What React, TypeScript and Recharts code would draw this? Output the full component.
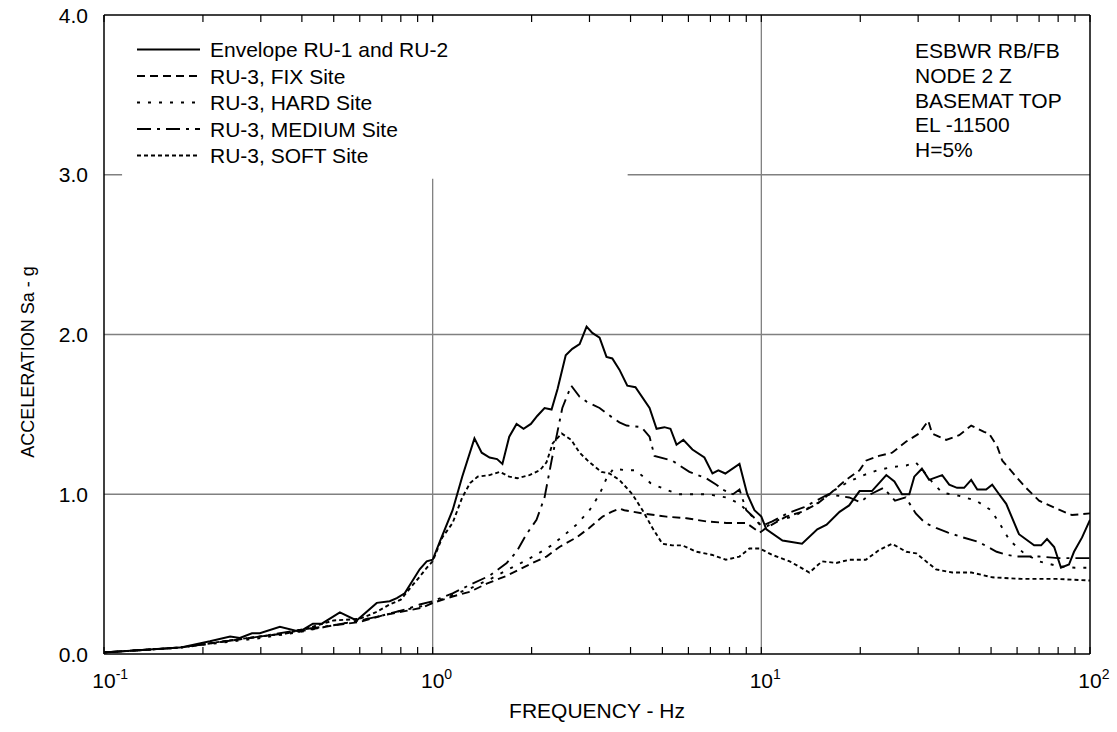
import React from 'react';
import { LineChart, Line, XAxis, YAxis, CartesianGrid, ReferenceArea } from 'recharts';

const W = 1117;
const H = 732;
const FONT = '"Liberation Sans", Arial, Helvetica, sans-serif';

// ---- axis ticks ----
const xMajorTicks = [0.1, 1, 10, 100];
const xMajorExponents = ['-1', '0', '1', '2'];
const xAllTicks = [
  0.1, 0.2, 0.3, 0.4, 0.5, 0.6, 0.7, 0.8, 0.9,
  1, 2, 3, 4, 5, 6, 7, 8, 9,
  10, 20, 30, 40, 50, 60, 70, 80, 90, 100,
];
const yTicks = [0, 1, 2, 3, 4];
const yTickLabels = ['0.0', '1.0', '2.0', '3.0', '4.0'];

// ---- series: [frequency Hz, acceleration g] ----
const envelopeRU12 = [
  [0.1, 0.01], [0.17, 0.04], [0.21, 0.08], [0.242, 0.11], [0.259, 0.1], [0.282, 0.13], [0.298, 0.13],
  [0.343, 0.17], [0.394, 0.14], [0.432, 0.19], [0.46, 0.19], [0.522, 0.26], [0.587, 0.21], [0.676, 0.32],
  [0.74, 0.33], [0.778, 0.35], [0.822, 0.38], [0.913, 0.53], [0.959, 0.58], [1.0, 0.59], [1.05, 0.7],
  [1.15, 0.9], [1.23, 1.11], [1.34, 1.35], [1.41, 1.26], [1.49, 1.23], [1.57, 1.22], [1.63, 1.19],
  [1.71, 1.36], [1.8, 1.44], [1.89, 1.41], [1.99, 1.44], [2.08, 1.49], [2.19, 1.54], [2.3, 1.53],
  [2.4, 1.66], [2.54, 1.87], [2.66, 1.91], [2.8, 1.94], [2.94, 2.05], [3.06, 2.01], [3.22, 1.98],
  [3.38, 1.86], [3.52, 1.85], [3.7, 1.78], [3.91, 1.68], [4.14, 1.67], [4.57, 1.54], [4.8, 1.41],
  [5.07, 1.42], [5.29, 1.41], [5.52, 1.31], [5.79, 1.34], [6.17, 1.28], [6.71, 1.23], [7.1, 1.13],
  [7.4, 1.15], [7.77, 1.13], [8.58, 1.19], [9.06, 1.0], [9.53, 0.9], [10.0, 0.86], [10.36, 0.78],
  [11.6, 0.71], [13.3, 0.69], [14.8, 0.78], [15.8, 0.81], [17.3, 0.89], [18.5, 0.93], [19.9, 1.02],
  [21.7, 1.02], [24.0, 1.12], [25.4, 1.08], [26.8, 1.0], [28.2, 1.0], [29.2, 1.11], [30.8, 1.16],
  [32.4, 1.09], [35.5, 1.12], [37.3, 1.06], [39.4, 1.04], [41.4, 1.04], [43.5, 1.09], [45.4, 1.03],
  [48.3, 1.03], [50.4, 1.06], [52.9, 1.0], [55.6, 0.94], [60.8, 0.75], [67.6, 0.68], [71.0, 0.68],
  [74.0, 0.72], [77.8, 0.67], [81.6, 0.54], [86.3, 0.56], [89.4, 0.64], [94.6, 0.73], [100, 0.84],
];

const ru3Fix = [
  [0.1, 0.01], [0.17, 0.04], [0.3, 0.11], [0.39, 0.14], [0.5, 0.18], [0.6, 0.2], [0.7, 0.24],
  [0.83, 0.27], [0.93, 0.29], [1.0, 0.32], [1.15, 0.36], [1.3, 0.39], [1.46, 0.44], [1.68, 0.49],
  [1.84, 0.53], [2.01, 0.57], [2.22, 0.61], [2.43, 0.67], [2.74, 0.73], [3.0, 0.79], [3.29, 0.86],
  [3.5, 0.89], [3.7, 0.91], [3.83, 0.9], [4.35, 0.88], [5.14, 0.86], [5.92, 0.85], [6.8, 0.83],
  [7.83, 0.82], [9.0, 0.82], [9.9, 0.76], [10.36, 0.79], [11.9, 0.86], [13.3, 0.89], [14.8, 0.94],
  [16.1, 1.0], [18.1, 1.09], [19.9, 1.15], [20.8, 1.21], [22.8, 1.24], [25.0, 1.26], [27.6, 1.33],
  [30.2, 1.38], [32.2, 1.46], [33.1, 1.38], [36.5, 1.34], [40.0, 1.37], [43.5, 1.43], [47.6, 1.39],
  [49.3, 1.38], [52.2, 1.3], [54.1, 1.21], [59.6, 1.11], [63.9, 1.04], [70.0, 0.96], [79.0, 0.91],
  [88.1, 0.87], [100, 0.88],
];

const ru3Hard = [
  [0.1, 0.01], [0.17, 0.04], [0.3, 0.1], [0.4, 0.14], [0.5, 0.18], [0.6, 0.21], [0.7, 0.24],
  [0.8, 0.27], [0.93, 0.3], [1.0, 0.32], [1.15, 0.37], [1.3, 0.41], [1.5, 0.47], [1.7, 0.53],
  [1.9, 0.58], [2.1, 0.63], [2.3, 0.68], [2.5, 0.74], [2.74, 0.81], [3.0, 0.9], [3.22, 1.0],
  [3.38, 1.1], [3.55, 1.16], [3.9, 1.15], [4.15, 1.15], [4.6, 1.07], [5.1, 1.03], [5.6, 1.0],
  [6.2, 1.0], [6.9, 1.0], [7.8, 0.98], [8.6, 0.94], [9.3, 0.87], [10.0, 0.8], [10.4, 0.8],
  [11.3, 0.84], [12.5, 0.86], [13.8, 0.91], [15.0, 0.95], [16.5, 1.02], [18.5, 1.08], [20.5, 1.12],
  [22.5, 1.15], [25.0, 1.17], [27.6, 1.18], [29.5, 1.2], [31.0, 1.15], [33.0, 1.08], [35.5, 1.01],
  [40.0, 0.99], [45.0, 0.96], [50.0, 0.9], [53.0, 0.82], [57.0, 0.71], [63.0, 0.63], [70.0, 0.58],
  [80.0, 0.55], [90.0, 0.54], [100, 0.54],
];

const ru3Medium = [
  [0.1, 0.01], [0.17, 0.04], [0.3, 0.11], [0.39, 0.15], [0.5, 0.18], [0.6, 0.21], [0.7, 0.24],
  [0.83, 0.28], [0.913, 0.31], [1.0, 0.33], [1.15, 0.38], [1.32, 0.44], [1.49, 0.49], [1.68, 0.57],
  [1.8, 0.64], [1.93, 0.75], [2.07, 0.84], [2.19, 0.98], [2.3, 1.21], [2.38, 1.36], [2.48, 1.54],
  [2.64, 1.68], [2.8, 1.61], [2.94, 1.58], [3.22, 1.54], [3.52, 1.48], [3.7, 1.45], [3.89, 1.43],
  [4.32, 1.42], [4.57, 1.36], [4.73, 1.24], [5.36, 1.21], [6.04, 1.14], [6.8, 1.1], [7.3, 1.06],
  [7.61, 1.03], [8.2, 1.0], [8.58, 1.03], [9.0, 0.9], [9.66, 0.84], [10.0, 0.8], [10.8, 0.83],
  [12.0, 0.88], [13.5, 0.92], [16.0, 1.0], [18.5, 0.98], [20.0, 0.95], [21.5, 1.0], [23.5, 1.04],
  [25.5, 0.96], [27.5, 0.98], [29.5, 0.88], [31.5, 0.82], [34.0, 0.79], [37.0, 0.76], [41.0, 0.73],
  [46.0, 0.7], [52.0, 0.64], [56.0, 0.62], [60.0, 0.61], [70.0, 0.61], [80.0, 0.6], [100, 0.6],
];

const ru3Soft = [
  [0.1, 0.01], [0.17, 0.04], [0.25, 0.09], [0.3, 0.11], [0.36, 0.13], [0.43, 0.17], [0.5, 0.21],
  [0.6, 0.22], [0.67, 0.26], [0.74, 0.31], [0.8, 0.34], [0.86, 0.42], [0.91, 0.48], [0.96, 0.54],
  [1.0, 0.58], [1.07, 0.73], [1.15, 0.82], [1.23, 0.98], [1.3, 1.07], [1.37, 1.11], [1.49, 1.12],
  [1.6, 1.14], [1.71, 1.11], [1.81, 1.1], [1.97, 1.12], [2.12, 1.15], [2.22, 1.2], [2.32, 1.32],
  [2.47, 1.38], [2.64, 1.34], [2.8, 1.26], [3.0, 1.2], [3.26, 1.14], [3.45, 1.13], [3.7, 1.09],
  [4.05, 1.0], [4.35, 0.9], [4.66, 0.79], [5.0, 0.69], [5.36, 0.68], [5.75, 0.68], [6.35, 0.64],
  [7.1, 0.62], [7.8, 0.59], [8.58, 0.61], [9.2, 0.66], [9.9, 0.66], [10.8, 0.62], [12.2, 0.58],
  [14.0, 0.51], [15.3, 0.58], [16.9, 0.57], [18.5, 0.59], [20.8, 0.59], [22.8, 0.65], [25.0, 0.69],
  [27.6, 0.64], [29.6, 0.63], [34.0, 0.53], [38.1, 0.51], [43.6, 0.51], [50.4, 0.48], [62.0, 0.47],
  [79.0, 0.47], [100, 0.46],
];

const seriesNames = [
  'Envelope RU-1 and RU-2',
  'RU-3, FIX Site',
  'RU-3, HARD Site',
  'RU-3, MEDIUM Site',
  'RU-3, SOFT Site',
];
const seriesValues = [envelopeRU12, ru3Fix, ru3Hard, ru3Medium, ru3Soft];
const seriesDash = [undefined, '8 5', '3 8', '14 6 3 6', '4 3'];

const annotationLines = ['ESBWR RB/FB', 'NODE 2 Z', 'BASEMAT TOP', 'EL -11500', 'H=5%'];

const toRows = (pairs: number[][]) => pairs.map(([f, a]) => ({ f, a }));

const BottomTick = (props: any) => {
  const { x, y, payload } = props;
  const i = xMajorTicks.indexOf(payload.value);
  return (
    <g>
      <line x1={x} x2={x} y1={y} y2={y - 7} stroke="#000" strokeWidth={1.2} />
      {i >= 0 && (
        <text x={x - 11.7} y={y + 34} fontSize={21} fontFamily={FONT} fill="#000" textAnchor="start">
          10
          <tspan dy={-9} fontSize={14}>{xMajorExponents[i]}</tspan>
        </text>
      )}
    </g>
  );
};

const TopTick = (props: any) => {
  const { x, y } = props;
  return <line x1={x} x2={x} y1={y} y2={y + 7} stroke="#000" strokeWidth={1.2} />;
};

const LeftTick = (props: any) => {
  const { x, y, payload } = props;
  const i = yTicks.indexOf(payload.value);
  return (
    <text x={x - 16} y={y + 7.5} fontSize={21} fontFamily={FONT} fill="#000" textAnchor="end">
      {yTickLabels[i]}
    </text>
  );
};

export default function App() {
  const legendX = 137;
  const legendTextX = 210;
  const legendBaselines = [57, 83.5, 110, 136.5, 163];
  const annoBaselines = [58, 83, 107.5, 132, 156.5];

  return (
    <div style={{ position: 'absolute', left: 0, top: 0, width: W, height: H, background: '#fff' }}>
      <LineChart width={W} height={H} margin={{ top: 0, right: 0, bottom: 0, left: 0 }}>
        <CartesianGrid
          xAxisId="b"
          yAxisId="l"
          horizontalValues={[1, 2, 3]}
          verticalValues={[1, 10]}
          stroke="#808080"
          strokeWidth={1.3}
        />
        <ReferenceArea
          xAxisId="b"
          yAxisId="l"
          x1={0.1135}
          x2={3.92}
          y1={2.975}
          y2={3.955}
          fill="#fff"
          fillOpacity={1}
          stroke="none"
          ifOverflow="visible"
        />
        <XAxis
          xAxisId="b"
          dataKey="f"
          type="number"
          scale="log"
          domain={[0.1, 100]}
          allowDataOverflow
          ticks={xAllTicks}
          interval={0}
          orientation="bottom"
          height={78}
          tickSize={0}
          tickMargin={0}
          tickLine={false}
          tick={BottomTick}
          axisLine={{ stroke: '#000', strokeWidth: 1.5 }}
        />
        <XAxis
          xAxisId="t"
          dataKey="f"
          type="number"
          scale="log"
          domain={[0.1, 100]}
          allowDataOverflow
          ticks={xAllTicks}
          interval={0}
          orientation="top"
          height={15}
          tickSize={0}
          tickMargin={0}
          tickLine={false}
          tick={TopTick}
          axisLine={{ stroke: '#000', strokeWidth: 1.5 }}
        />
        <YAxis
          yAxisId="l"
          type="number"
          domain={[0, 4]}
          ticks={yTicks}
          interval={0}
          width={104}
          tickSize={0}
          tickMargin={0}
          tickLine={false}
          tick={LeftTick}
          axisLine={{ stroke: '#000', strokeWidth: 1.5 }}
        />
        <YAxis
          yAxisId="r"
          orientation="right"
          type="number"
          domain={[0, 4]}
          ticks={yTicks}
          width={27}
          tick={false}
          tickLine={false}
          axisLine={{ stroke: '#000', strokeWidth: 1.5 }}
        />
        {seriesValues.map((vals, i) => (
          <Line
            key={seriesNames[i]}
            xAxisId="b"
            yAxisId="l"
            data={toRows(vals)}
            dataKey="a"
            name={seriesNames[i]}
            type="linear"
            stroke="#000"
            strokeWidth={i === 0 ? 2 : 1.9}
            strokeDasharray={seriesDash[i]}
            dot={false}
            activeDot={false}
            isAnimationActive={false}
          />
        ))}
      </LineChart>
      <svg
        width={W}
        height={H}
        style={{ position: 'absolute', left: 0, top: 0, pointerEvents: 'none' }}
        fontFamily={FONT}
      >
        {seriesNames.map((name, i) => (
          <g key={name}>
            <line
              x1={legendX}
              x2={legendX + 63}
              y1={legendBaselines[i] - 7.5}
              y2={legendBaselines[i] - 7.5}
              stroke="#000"
              strokeWidth={2}
              strokeDasharray={seriesDash[i]}
            />
            <text x={legendTextX} y={legendBaselines[i]} fontSize={21} fill="#000">
              {name}
            </text>
          </g>
        ))}
        {annotationLines.map((t, i) => (
          <text key={t} x={915} y={annoBaselines[i]} fontSize={21} fill="#000">
            {t}
          </text>
        ))}
        <text x={597} y={718} fontSize={21} fill="#000" textAnchor="middle">
          FREQUENCY - Hz
        </text>
        <text
          transform="translate(28, 362) rotate(-90)"
          fontSize={18}
          fill="#000"
          textAnchor="middle"
          dominantBaseline="central"
        >
          ACCELERATION Sa - g
        </text>
      </svg>
    </div>
  );
}
